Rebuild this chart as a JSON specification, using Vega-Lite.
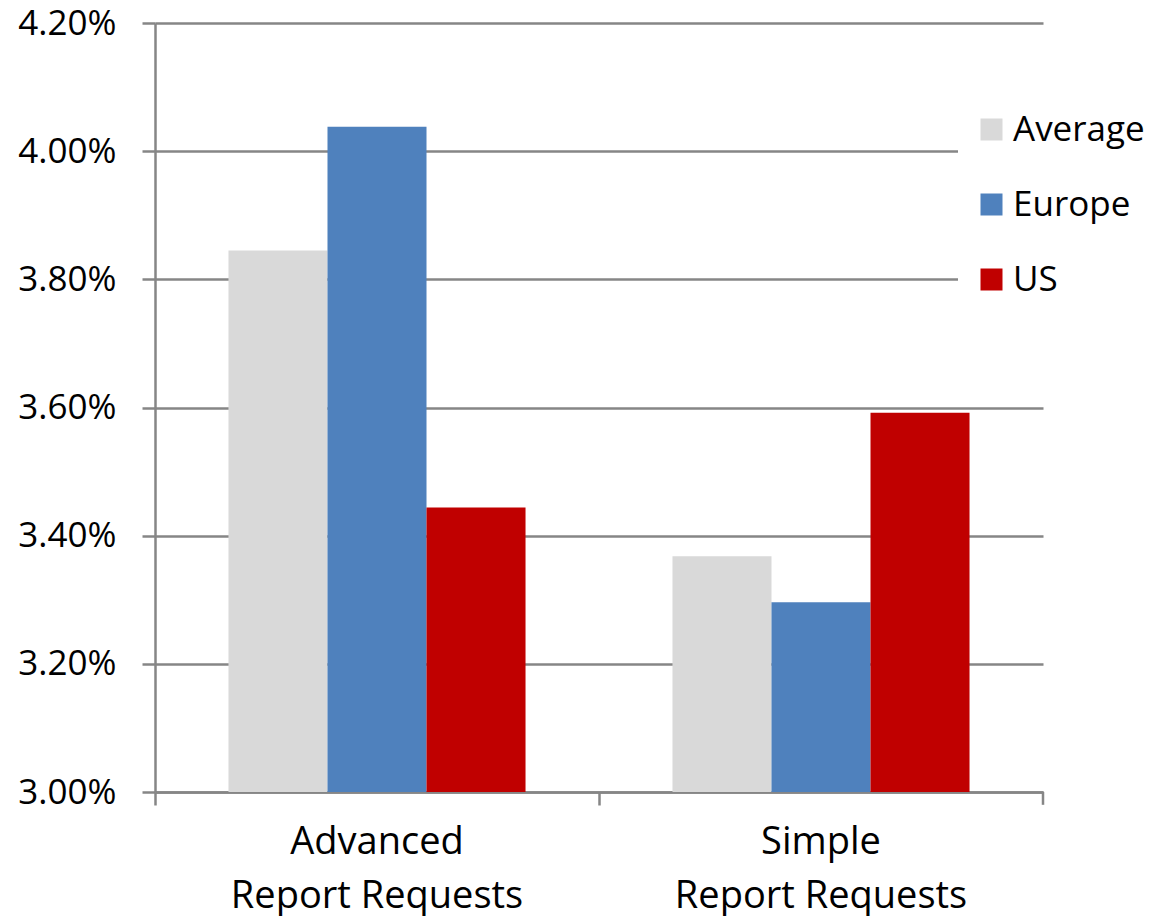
{
  "$schema": "https://vega.github.io/schema/vega-lite/v6.json",
  "width": 888,
  "height": 769,
  "autosize": {"type": "none"},
  "padding": {"left": 155, "top": 23, "right": 111, "bottom": 124},
  "background": "white",
  "config": {
    "view": {"stroke": null},
    "font": "Open Sans"
  },
  "encoding": {
    "x": {
      "field": "category",
      "type": "nominal",
      "sort": ["Advanced Report Requests", "Simple Report Requests"],
      "scale": {"domain": ["Advanced Report Requests", "Simple Report Requests"], "paddingInner": 0, "paddingOuter": 0},
      "axis": {
        "title": null,
        "labelAngle": 0,
        "bandPosition": 0,
        "labelExpr": "datum.label == 'Advanced Report Requests' ? ['Advanced', 'Report Requests'] : ['Simple', 'Report Requests']",
        "labelFontSize": 38,
        "labelLineHeight": 54,
        "labelLimit": 500,
        "labelColor": "#000000",
        "labelPadding": 18,
        "ticks": true,
        "tickSize": 13,
        "tickColor": "#868686",
        "tickWidth": 2.5,
        "domainColor": "#868686",
        "domainWidth": 2.5,
        "grid": false
      }
    }
  },
  "layer": [
    {
      "data": {
        "values": [
          {"category": "Advanced Report Requests", "series": "Average", "value": 0.03845},
          {"category": "Advanced Report Requests", "series": "Europe", "value": 0.04038},
          {"category": "Advanced Report Requests", "series": "US", "value": 0.03444},
          {"category": "Simple Report Requests", "series": "Average", "value": 0.03368},
          {"category": "Simple Report Requests", "series": "Europe", "value": 0.03296},
          {"category": "Simple Report Requests", "series": "US", "value": 0.03592}
        ]
      },
      "mark": {"type": "bar"},
      "encoding": {
        "xOffset": {
          "field": "series",
          "type": "nominal",
          "sort": ["Average", "Europe", "US"],
          "scale": {"paddingInner": 0, "paddingOuter": 0.742}
        },
        "y": {
          "field": "value",
          "type": "quantitative",
          "scale": {"domain": [0.03, 0.042], "zero": false, "nice": false},
          "axis": {
            "title": null,
            "values": [0.03, 0.032, 0.034, 0.036, 0.038, 0.04, 0.042],
            "format": ".2%",
            "labelFontSize": 35,
            "labelColor": "#000000",
            "labelPadding": 26,
            "tickSize": 13,
            "tickColor": "#868686",
            "tickWidth": 2.5,
            "domainColor": "#868686",
            "domainWidth": 2.5,
            "grid": true,
            "gridColor": "#868686",
            "gridWidth": 2.5
          }
        },
        "y2": {"datum": 0.03},
        "color": {
          "field": "series",
          "type": "nominal",
          "sort": ["Average", "Europe", "US"],
          "scale": {"domain": ["Average", "Europe", "US"], "range": ["#d9d9d9", "#4f81bd", "#c00000"]},
          "legend": {
            "title": null,
            "orient": "none",
            "legendX": 803,
            "legendY": 73,
            "padding": 16,
            "fillColor": "white",
            "symbolType": "square",
            "symbolSize": 484,
            "symbolStrokeWidth": 0,
            "labelFontSize": 35,
            "labelColor": "#000000",
            "labelOffset": 4,
            "rowPadding": 39,
            "labelLimit": 400
          }
        }
      }
    },
    {
      "data": {"values": [{"category": "Simple Report Requests"}]},
      "mark": {"type": "rule", "color": "#868686", "strokeWidth": 2.5},
      "encoding": {
        "x": {
          "field": "category",
          "type": "nominal",
          "bandPosition": 1
        },
        "y": {"datum": 0.03},
        "y2": {"datum": 0.0298}
      }
    }
  ]
}
